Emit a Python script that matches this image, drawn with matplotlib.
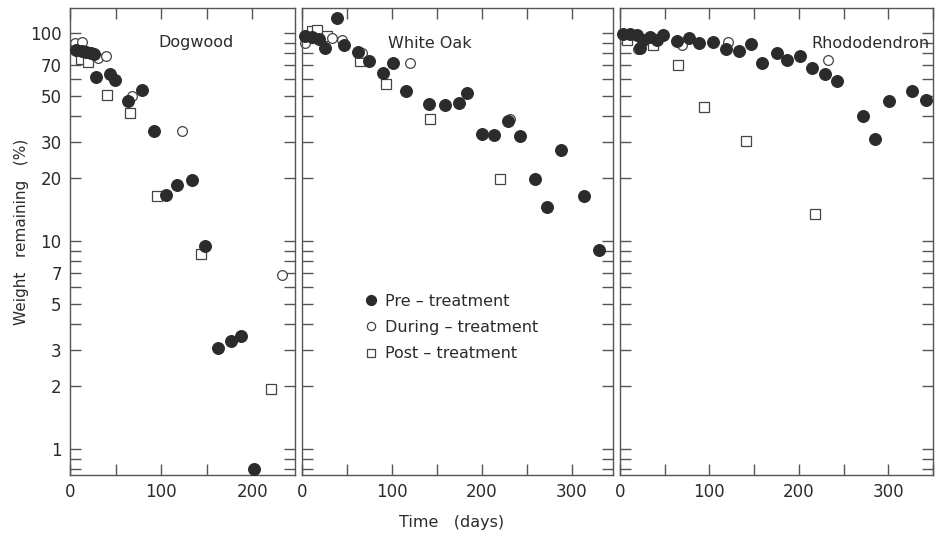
import numpy as np
import matplotlib
matplotlib.use("Agg")
import matplotlib.pyplot as plt
from matplotlib.ticker import LogLocator, FixedLocator, FixedFormatter, MultipleLocator, NullFormatter

# ---- data (days, % weight remaining) ----------------------------------------
PANELS = ["Dogwood", "White Oak", "Rhododendron"]

dog_pre_t = [7, 13.5, 18, 22.6, 26.3, 29, 44, 49, 64, 79, 92.5, 105.6, 118, 133.4, 148, 162, 177, 187.5, 202]
dog_pre_w = [83, 81.6, 80.7, 80, 79.5, 61.2, 63.7, 59.6, 47.2, 53.4, 34, 16.6, 18.7, 19.7, 9.5, 3.05, 3.32, 3.5, 0.8]
dog_dur_t = [5.5, 13.5, 31, 39.8, 68.3, 123, 233]
dog_dur_w = [89.5, 91, 75.8, 78, 50, 33.9, 6.9]
dog_post_t = [12, 20, 41, 65.8, 95.7, 143.6, 221]
dog_post_w = [75, 73, 50.5, 41.2, 16.4, 8.7, 1.94]

oak_pre_t = [3.7, 11, 18.5, 26, 38.9, 46.3, 62.2, 74.5, 89.7, 101, 115.6, 141, 158.6, 174.9, 183.8,
             200.8, 213.4, 229.7, 242.6, 259.7, 273, 287.8, 314, 330.8]
oak_pre_w = [96.3, 95.6, 93.6, 84.7, 118, 87.2, 80.7, 73.6, 64.2, 71.7, 52.9, 45.7, 45.2, 46.1, 51.5,
             32.7, 32.4, 37.6, 32.1, 19.8, 14.5, 27.5, 16.4, 9.1]
oak_dur_t = [3.7, 33, 44, 66.7, 119.7, 231.5]
oak_dur_w = [89.5, 94.6, 93, 80, 71.7, 38.7]
oak_post_t = [11, 16.7, 27.8, 64, 93.8, 142, 220.4]
oak_post_w = [101.8, 103, 97, 73.6, 57.1, 38.7, 19.9]

rho_pre_t = [3.7, 11.2, 18.6, 22.4, 26, 33.5, 41, 48.5, 63.4, 77.2, 88.7, 104.4, 118.2, 133.1, 146.5,
             159.2, 176, 187.2, 201.3, 214.4, 229.3, 242.4, 272.1, 285.2, 300.9, 326.6, 342.3]
rho_pre_w = [98.9, 98.9, 98, 84.7, 92.9, 95.6, 92.9, 98, 92.1, 94.6, 89.5, 91, 83.7, 81.6, 88.8,
             71.7, 80, 73.9, 78, 67.9, 63.7, 59, 40.1, 30.9, 47.4, 52.7, 47.8]
rho_dur_t = [20.5, 69, 121, 233]
rho_dur_w = [83.7, 87.8, 91, 74.4]
rho_post_t = [7.5, 37.3, 65.2, 94.3, 140.6, 218]
rho_post_w = [92.9, 87.8, 70.4, 43.9, 30.3, 13.5]

SERIES = [
    [(dog_pre_t, dog_pre_w), (dog_dur_t, dog_dur_w), (dog_post_t, dog_post_w)],
    [(oak_pre_t, oak_pre_w), (oak_dur_t, oak_dur_w), (oak_post_t, oak_post_w)],
    [(rho_pre_t, rho_pre_w), (rho_dur_t, rho_dur_w), (rho_post_t, rho_post_w)],
]
LEGEND_LABELS = ["Pre – treatment", "During – treatment", "Post – treatment"]
XLIMS = [(0, 247), (0, 346), (0, 350)]
XLABELED = [[0, 100, 200], [0, 100, 200, 300], [0, 100, 200, 300]]
YLABELED = [1, 2, 3, 5, 7, 10, 20, 30, 50, 70, 100]

INK = "#2b2b2b"
plt.rcParams.update({
    "font.family": "DejaVu Sans",
    "font.size": 11,
    "text.color": INK,
    "axes.edgecolor": "#555555",
    "axes.linewidth": 1.0,
    "xtick.color": "#555555",
    "ytick.color": "#555555",
    "xtick.labelcolor": INK,
    "ytick.labelcolor": INK,
})

STYLES = [
    dict(marker="o", ms=8.5, mfc=INK, mec=INK, mew=0.8, ls="none"),
    dict(marker="o", ms=7, mfc="white", mec="#444444", mew=0.9, ls="none"),
    dict(marker="s", ms=6.5, mfc="white", mec="#444444", mew=0.9, ls="none"),
]

fig = plt.figure(figsize=(9.35, 5.35), dpi=100)
W, H = 935.0, 535.0
boxes = [(70, 295), (302, 613), (620, 933)]
top, bottom = 8, 475

axes = []
for i, (x0, x1) in enumerate(boxes):
    ax = fig.add_axes([x0 / W, 1 - bottom / H, (x1 - x0) / W, (bottom - top) / H])
    axes.append(ax)
    for j, (t, w) in enumerate(SERIES[i]):
        ax.plot(t, w, label=LEGEND_LABELS[j], zorder=3 - j * 0.5 if j else 3, clip_on=False, **STYLES[j])
    ax.set_yscale("log")
    ax.set_ylim(0.75, 132)
    ax.set_xlim(*XLIMS[i])

    ax.yaxis.set_major_locator(FixedLocator(YLABELED))
    ax.yaxis.set_minor_locator(LogLocator(base=10, subs=np.arange(1, 10)))
    ax.yaxis.set_minor_formatter(NullFormatter())
    if i == 0:
        ax.yaxis.set_major_formatter(FixedFormatter([str(v) for v in YLABELED]))
    else:
        ax.yaxis.set_major_formatter(NullFormatter())

    ax.xaxis.set_major_locator(FixedLocator(XLABELED[i]))
    ax.xaxis.set_major_formatter(FixedFormatter([str(v) for v in XLABELED[i]]))
    ax.xaxis.set_minor_locator(MultipleLocator(50))

    ax.tick_params(which="both", direction="in", top=True, right=True,
                   length=8, width=1.0, labelsize=12, pad=6)
    ax.tick_params(axis="x", which="minor", length=8)

axes[0].text(0.56, 0.927, PANELS[0], transform=axes[0].transAxes, ha="center", va="center", fontsize=11.5)
axes[1].text(0.41, 0.925, PANELS[1], transform=axes[1].transAxes, ha="center", va="center", fontsize=11.5)
axes[2].text(0.80, 0.925, PANELS[2], transform=axes[2].transAxes, ha="center", va="center", fontsize=11.5)

axes[1].legend(loc="upper left", bbox_to_anchor=(0.18, 0.405), frameon=False,
               handlelength=0.6, handletextpad=0.6, labelspacing=0.7, borderpad=0,
               fontsize=11.5, markerscale=0.85)

fig.text(22 / W, 1 - 232 / H, "Weight   remaining   (%)", rotation=90, ha="center", va="center", fontsize=11)
fig.text(452 / W, 1 - 522 / H, "Time   (days)", ha="center", va="center", fontsize=11.5)

fig.savefig("out.png", dpi=100, facecolor="white")
